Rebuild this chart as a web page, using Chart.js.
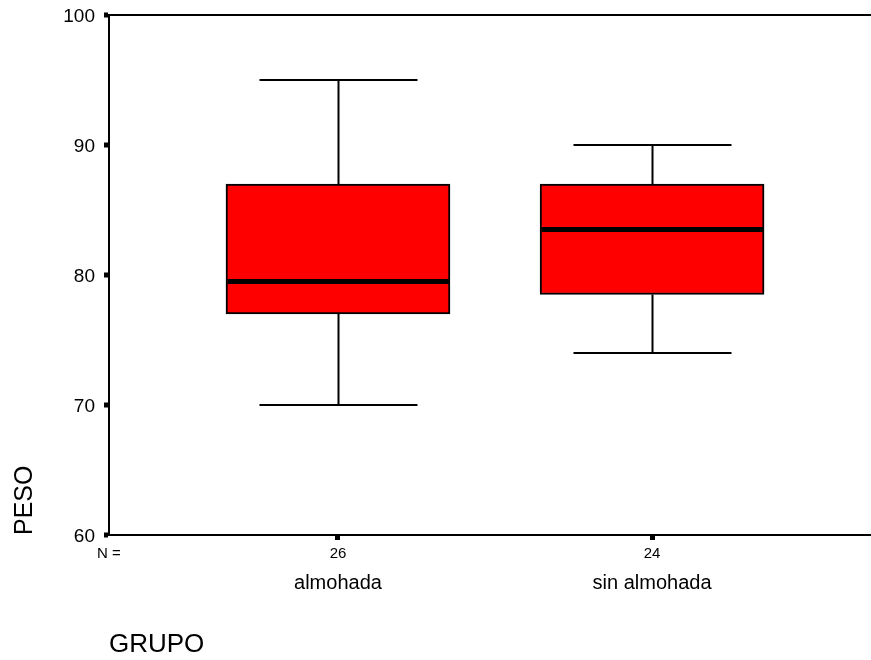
<!DOCTYPE html>
<html>
<head>
<meta charset="utf-8">
<title>PESO por GRUPO</title>
<script src="https://cdn.jsdelivr.net/npm/chart.js@4.4.1/dist/chart.umd.min.js"></script>
<style>
    html, body { margin: 0; padding: 0; background: #fff; overflow: hidden; }
    #chart { display: block; }
</style>
</head>
<body>
<canvas id="chart" width="871" height="660"></canvas>
<script>
// Box plot values
const categories = ['almohada', 'sin almohada'];
const nCounts = ['26', '24'];
const whiskerLow = [70, 74];
const q1 = [77, 78.5];
const median = [79.5, 83.5];
const q3 = [87, 87];
const whiskerHigh = [95, 90];
const yTickValues = [60, 70, 80, 90, 100];

const FONT = "'Liberation Sans', Arial, sans-serif";
const X_MIN = 0.271;
const X_MAX = 2.697;

// Whiskers, caps and median line, positioned through the chart scales
const boxWhiskers = {
    id: 'boxWhiskers',
    afterDatasetsDraw: function(chart) {
        const ctx = chart.ctx;
        const xs = chart.scales.x;
        const ys = chart.scales.y;
        const capHalf = 79;
        const boxHalf = 111;

        ctx.save();
        ctx.strokeStyle = '#000';
        ctx.lineCap = 'butt';

        categories.forEach(function(cat, i) {
            const x = Math.round(xs.getPixelForValue(i + 1)) + 0.5;

            ctx.lineWidth = 2;
            ctx.beginPath();
            // upper whisker
            ctx.moveTo(x, ys.getPixelForValue(q3[i]));
            ctx.lineTo(x, ys.getPixelForValue(whiskerHigh[i]));
            // lower whisker
            ctx.moveTo(x, ys.getPixelForValue(q1[i]));
            ctx.lineTo(x, ys.getPixelForValue(whiskerLow[i]));
            // caps
            ctx.moveTo(x - capHalf, ys.getPixelForValue(whiskerHigh[i]));
            ctx.lineTo(x + capHalf, ys.getPixelForValue(whiskerHigh[i]));
            ctx.moveTo(x - capHalf, ys.getPixelForValue(whiskerLow[i]));
            ctx.lineTo(x + capHalf, ys.getPixelForValue(whiskerLow[i]));
            ctx.stroke();

            // median
            ctx.lineWidth = 5;
            ctx.beginPath();
            ctx.moveTo(x - boxHalf, ys.getPixelForValue(median[i]));
            ctx.lineTo(x + boxHalf, ys.getPixelForValue(median[i]));
            ctx.stroke();
        });
        ctx.restore();
    }
};

const boxData = categories.map(function(cat, i) {
    return { x: i + 1, y: [q1[i], q3[i]] };
});

new Chart(document.getElementById('chart'), {
    type: 'bar',
    data: {
        datasets: [{
            label: 'PESO',
            data: boxData,
            backgroundColor: '#ff0000',
            borderColor: '#000',
            borderWidth: 2,
            borderSkipped: false,
            barThickness: 224
        }]
    },
    options: {
        responsive: false,
        animation: false,
        layout: { padding: { top: 15, right: 0, bottom: 0, left: 0 } },
        plugins: {
            legend: { display: false },
            tooltip: { enabled: false }
        },
        scales: {
            x: {
                type: 'linear',
                axis: 'x',
                position: 'bottom',
                weight: 0,
                min: X_MIN,
                max: X_MAX,
                offset: false,
                afterBuildTicks: function(scale) {
                    scale.ticks = [{ value: X_MIN }].concat(categories.map(function(c, i) {
                        return { value: i + 1 };
                    }));
                },
                afterFit: function(scale) {
                    scale.height = 30;
                    scale.paddingLeft = 0;
                    scale.paddingRight = 0;
                },
                grid: {
                    offset: false,
                    drawOnChartArea: false,
                    drawTicks: true,
                    tickLength: 5,
                    tickWidth: 5,
                    tickColor: function(c) { return c.index === 0 ? 'rgba(0,0,0,0)' : '#000'; }
                },
                border: { display: true, color: '#000', width: 2 },
                ticks: {
                    autoSkip: false,
                    maxRotation: 0,
                    minRotation: 0,
                    padding: 5,
                    color: '#000',
                    font: { family: FONT, size: 15 },
                    callback: function(value, index) {
                        return index === 0 ? 'N =' : nCounts[index - 1];
                    }
                }
            },
            x2: {
                type: 'linear',
                axis: 'x',
                position: 'bottom',
                weight: 1,
                min: X_MIN,
                max: X_MAX,
                offset: false,
                afterBuildTicks: function(scale) {
                    scale.ticks = categories.map(function(c, i) {
                        return { value: i + 1 };
                    });
                },
                afterFit: function(scale) {
                    scale.height = 95;
                    scale.paddingLeft = 0;
                    scale.paddingRight = 0;
                },
                grid: { display: false, drawTicks: false },
                border: { display: false },
                ticks: {
                    autoSkip: false,
                    maxRotation: 0,
                    minRotation: 0,
                    padding: 6,
                    color: '#000',
                    font: { family: FONT, size: 20 },
                    callback: function(value, index) {
                        return categories[index];
                    }
                },
                title: {
                    display: true,
                    text: 'GRUPO',
                    align: 'start',
                    color: '#000',
                    font: { family: FONT, size: 26 },
                    padding: { top: 0, bottom: 0 }
                }
            },
            y: {
                type: 'linear',
                position: 'left',
                min: 60,
                max: 100,
                afterBuildTicks: function(scale) {
                    scale.ticks = yTickValues.map(function(v) { return { value: v }; });
                },
                afterFit: function(scale) {
                    scale.width = 109;
                    scale.paddingTop = 0;
                    scale.paddingBottom = 0;
                },
                grid: {
                    drawOnChartArea: true,
                    drawTicks: true,
                    tickLength: 5,
                    tickWidth: 5,
                    tickColor: '#000',
                    lineWidth: 2,
                    color: function(c) {
                        return c.tick && c.tick.value === 100 ? '#000' : 'rgba(0,0,0,0)';
                    }
                },
                border: { display: true, color: '#000', width: 2 },
                ticks: {
                    padding: 9,
                    labelOffset: 2,
                    color: '#000',
                    font: { family: FONT, size: 19 }
                },
                title: {
                    display: true,
                    text: 'PESO',
                    align: 'start',
                    color: '#000',
                    font: { family: FONT, size: 25 },
                    padding: { top: 10, bottom: 0 }
                }
            }
        }
    },
    plugins: [boxWhiskers]
});
</script>
</body>
</html>
